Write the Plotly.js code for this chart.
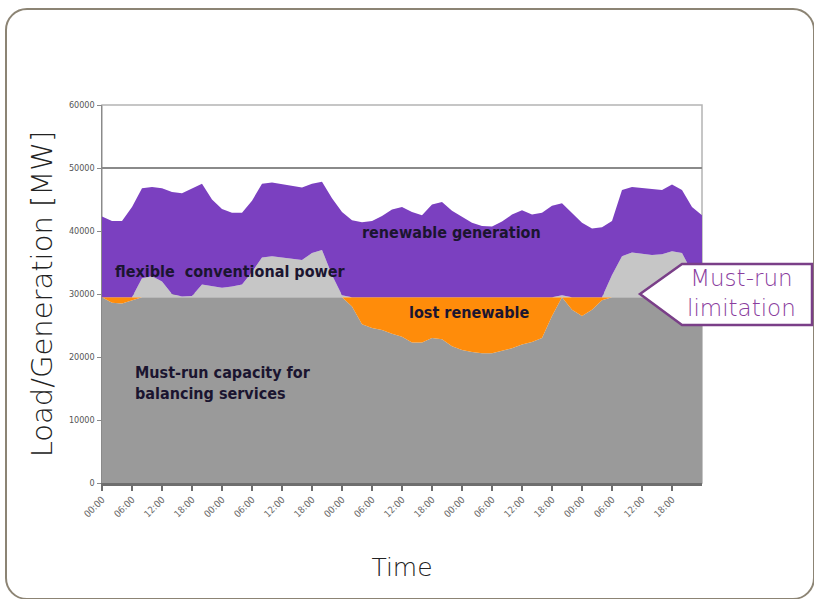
<!DOCTYPE html>
<html>
<head>
<meta charset="utf-8">
<script src="https://cdn.plot.ly/plotly-3.0.1.min.js"></script>
<style>
  html, body { margin: 0; padding: 0; background: #ffffff; }
  #frame { position: absolute; left: 5px; top: 8px; width: 806px; height: 588px;
           border: 2px solid #8c8474; border-radius: 22px; }
  #chart { position: absolute; left: 0; top: 0; width: 814px; height: 599px; }
</style>
</head>
<body>
<div id="frame"></div>
<div id="chart"></div>
<script>
// Time in hours (2-hour steps over five days)
const hours = [0,2,4,6,8,10,12,14,16,18,20,22,24,26,28,30,32,34,36,38,40,42,44,46,48,50,52,54,56,58,
               60,62,64,66,68,70,72,74,76,78,80,82,84,86,88,90,92,94,96,98,100,102,104,106,108,110,112,114,116,118,120];
// Total load (top of the purple area), MW
const loadMW = [42300,41600,41600,43800,46800,47000,46800,46200,46000,46800,47500,45000,43500,42900,42900,44800,
                47500,47700,47400,47200,46900,47500,47800,45200,43000,41700,41400,41600,42400,43400,
                43800,43000,42500,44200,44600,43200,42200,41300,40800,40700,41500,42600,43300,42600,42900,44000,
                44400,42800,41300,40400,40600,41600,46500,47000,46800,46600,46500,47400,46500,43800,42500];
// Residual load (load minus renewable generation), MW
const residualMW = [29500,28600,28500,29000,32500,32800,32000,30000,29600,29700,31500,31200,31000,31200,31500,33500,
                    35800,36000,35800,35500,35400,36500,37000,33000,29800,28000,25200,24600,24300,23700,
                    23200,22300,22300,23000,22800,21700,21100,20800,20600,20600,21000,21400,22000,22400,23000,26500,
                    29800,27500,26500,27500,29000,33000,36000,36600,36400,36200,36300,36800,36500,33500,30000];
// Must-run capacity for balancing services, MW
const mustRunMW = 29500;

const tickHours = [0,6,12,18,24,30,36,42,48,54,60,66,72,78,84,90,96,102,108,114];
const tickLabels = ["00:00","06:00","12:00","18:00","00:00","06:00","12:00","18:00","00:00","06:00",
                    "12:00","18:00","00:00","06:00","12:00","18:00","00:00","06:00","12:00","18:00"];

const mustRunPart = residualMW.map(r => Math.min(r, mustRunMW));
const lostPart = residualMW.map(r => mustRunMW - Math.min(r, mustRunMW));
const flexPart = residualMW.map(r => Math.max(r - mustRunMW, 0));
const renewPart = loadMW.map((l, i) => l - Math.max(residualMW[i], mustRunMW));

function area(name, y, color) {
  return { x: hours, y: y, name: name, type: 'scatter', mode: 'lines', stackgroup: 'one',
           line: { width: 0, color: color }, fillcolor: color, hoverinfo: 'skip' };
}

const data = [
  area('Must-run capacity', mustRunPart, '#9a9a9a'),
  area('lost renewable', lostPart, '#ff8c0a'),
  area('flexible conventional power', flexPart, '#c6c6c6'),
  area('renewable generation', renewPart, '#7b40c0')
];

const px = v => (v - 102) / 600;
const py = v => (483 - v) / 378;
const arrowPath = 'M ' + px(640) + ' ' + py(294) + ' L ' + px(682) + ' ' + py(264) + ' L ' + px(812) + ' ' + py(264) +
                  ' L ' + px(812) + ' ' + py(325) + ' L ' + px(682) + ' ' + py(325) + ' Z';

const labelFont = { family: 'DejaVu Sans Condensed, Liberation Sans Narrow, sans-serif', size: 16, color: '#1b1530' };
const lightFont = 'DejaVu Sans, sans-serif';

const layout = {
  width: 814, height: 599,
  margin: { l: 102, r: 112, t: 105, b: 116 },
  paper_bgcolor: 'rgba(0,0,0,0)',
  plot_bgcolor: '#ffffff',
  showlegend: false,
  xaxis: {
    range: [0, 120], tickmode: 'array', tickvals: tickHours, ticktext: tickLabels,
    tickangle: -45, tickfont: { family: 'DejaVu Sans Condensed, sans-serif', size: 9.5, color: '#6a6a6a' },
    showgrid: false, zeroline: false, showline: true, linecolor: '#6e6e6e', linewidth: 2.5,
    ticks: 'outside', ticklen: 5, tickcolor: '#6e6e6e', tickwidth: 1.5,
    title: { text: 'Time', font: { family: lightFont, size: 25, color: '#222', weight: 200 }, standoff: 40 }
  },
  yaxis: {
    range: [0, 60000], tickmode: 'array', tickvals: [0,10000,20000,30000,40000,50000,60000],
    ticktext: ['0','10000','20000','30000','40000','50000','60000'],
    tickfont: { family: 'DejaVu Sans Condensed, sans-serif', size: 9, color: '#555' },
    showgrid: true, gridcolor: '#8a8a8a', gridwidth: 1.5, zeroline: false,
    showline: true, linecolor: '#8a8a8a', linewidth: 1.5,
    ticks: 'outside', ticklen: 4, tickcolor: '#8a8a8a',
    title: { text: 'Load/Generation [MW]', font: { family: lightFont, size: 29, color: '#222', weight: 200 }, standoff: 8 }
  },
  shapes: [
    { type: 'rect', xref: 'paper', yref: 'paper', x0: 0, x1: 1, y0: 0, y1: 1,
      line: { color: '#b4b4b4', width: 1.5 }, layer: 'below' },
    { type: 'path', xref: 'paper', yref: 'paper', path: arrowPath,
      fillcolor: '#ffffff', line: { color: '#7a3f88', width: 2.5 }, layer: 'above' }
  ],
  annotations: [
    { x: 69.8, y: 39700, xref: 'x', yref: 'y', text: '<b>renewable generation</b>', showarrow: false,
      font: labelFont, xanchor: 'center', yanchor: 'middle' },
    { x: 2.2, y: 33500, xref: 'x', yref: 'y', text: '<b>flexible  conventional power</b>', showarrow: false,
      font: labelFont, xanchor: 'left', yanchor: 'middle' },
    { x: 73.4, y: 27100, xref: 'x', yref: 'y', text: '<b>lost renewable</b>', showarrow: false,
      font: labelFont, xanchor: 'center', yanchor: 'middle' },
    { x: 6.2, y: 15950, xref: 'x', yref: 'y', text: '<b>Must-run capacity for<br>balancing services</b>', showarrow: false,
      font: labelFont, xanchor: 'left', yanchor: 'middle', align: 'left' },
    { x: px(741), y: py(293), xref: 'paper', yref: 'paper', text: 'Must-run<br>limitation', showarrow: false,
      font: { family: lightFont, size: 23, color: '#8a3d9e', weight: 200 }, xanchor: 'center', yanchor: 'middle', align: 'center' }
  ]
};

Plotly.newPlot('chart', data, layout, { displayModeBar: false, staticPlot: true });
</script>
</body>
</html>
